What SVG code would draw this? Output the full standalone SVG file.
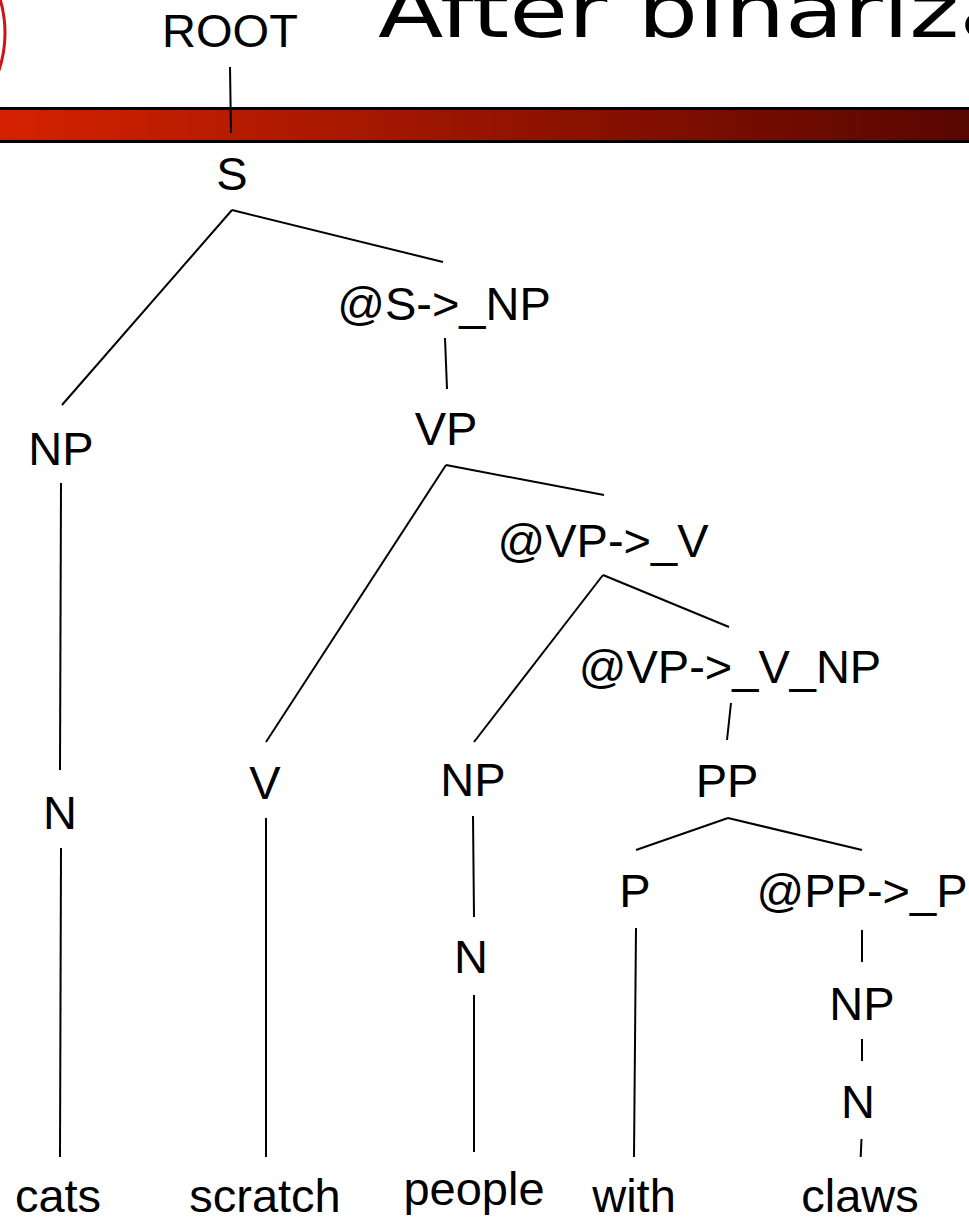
<svg xmlns="http://www.w3.org/2000/svg" width="969" height="1223" viewBox="0 0 969 1223">
<style>
.lbl{font-family:"Liberation Sans",Arial,sans-serif;font-size:47px;fill:#000;text-anchor:middle}
.edge{stroke:#000;stroke-width:2;fill:none;stroke-linecap:butt}
.title{font-family:"DejaVu Sans",Verdana,sans-serif;font-size:74px;fill:#000}
</style>
<defs>
<linearGradient id="bar" x1="0" y1="0" x2="1" y2="0">
<stop offset="0" stop-color="#d42200"/>
<stop offset="1" stop-color="#580600"/>
</linearGradient>
</defs>
<rect width="969" height="1223" fill="#fff"/>
<g id="header">
<circle cx="-113" cy="33" r="118" fill="none" stroke="#d41010" stroke-width="3"/>
<text class="title" transform="translate(378,37) scale(1.29,1)">After binariza</text>
<rect x="0" y="109" width="969" height="32" fill="url(#bar)"/>
<line x1="0" y1="108.5" x2="969" y2="108.5" stroke="#000" stroke-width="3"/>
<line x1="0" y1="141.5" x2="969" y2="141.5" stroke="#000" stroke-width="3"/>
</g>
<g id="connectors">
<line class="edge" x1="230" y1="67" x2="231" y2="133"/>
<line class="edge" x1="232" y1="210" x2="62" y2="405"/>
<line class="edge" x1="232" y1="210" x2="443" y2="262"/>
<line class="edge" x1="445" y1="338" x2="447" y2="389"/>
<line class="edge" x1="446" y1="465" x2="266" y2="742"/>
<line class="edge" x1="446" y1="465" x2="604" y2="495"/>
<line class="edge" x1="603" y1="575" x2="474" y2="742"/>
<line class="edge" x1="603" y1="575" x2="729" y2="627"/>
<line class="edge" x1="731" y1="703" x2="727" y2="740"/>
<line class="edge" x1="728" y1="818" x2="636" y2="850"/>
<line class="edge" x1="728" y1="818" x2="862" y2="850"/>
<line class="edge" x1="636" y1="928" x2="634" y2="1157"/>
<line class="edge" x1="862" y1="930" x2="862" y2="962"/>
<line class="edge" x1="862" y1="1039" x2="862" y2="1061"/>
<line class="edge" x1="861.5" y1="1139" x2="860.7" y2="1157"/>
<line class="edge" x1="61" y1="483" x2="60" y2="770"/>
<line class="edge" x1="61" y1="848" x2="60" y2="1157"/>
<line class="edge" x1="266" y1="818" x2="266" y2="1157"/>
<line class="edge" x1="473" y1="816" x2="474" y2="917"/>
<line class="edge" x1="474" y1="995" x2="474" y2="1152"/>
</g>
<g id="n-root"><text class="lbl" x="230" y="47">ROOT</text></g>
<g id="n-s"><text class="lbl" x="232" y="190">S</text></g>
<g id="n-s-np"><text class="lbl" x="444" y="320">@S-&gt;_NP</text></g>
<g id="n-np1"><text class="lbl" x="61" y="465">NP</text></g>
<g id="n-vp"><text class="lbl" x="446" y="445">VP</text></g>
<g id="n-vp-v"><text class="lbl" x="603" y="557">@VP-&gt;_V</text></g>
<g id="n-vp-v-np"><text class="lbl" x="730" y="683">@VP-&gt;_V_NP</text></g>
<g id="n-n1"><text class="lbl" x="60" y="829">N</text></g>
<g id="n-v"><text class="lbl" x="265" y="799">V</text></g>
<g id="n-np2"><text class="lbl" x="473" y="796">NP</text></g>
<g id="n-pp"><text class="lbl" x="727" y="797">PP</text></g>
<g id="n-p"><text class="lbl" x="635" y="907">P</text></g>
<g id="n-pp-p"><text class="lbl" x="862" y="907">@PP-&gt;_P</text></g>
<g id="n-n2"><text class="lbl" x="471" y="973">N</text></g>
<g id="n-np3"><text class="lbl" x="862" y="1020">NP</text></g>
<g id="n-n3"><text class="lbl" x="858" y="1118">N</text></g>
<g id="w-cats"><text class="lbl" x="58" y="1212">cats</text></g>
<g id="w-scratch"><text class="lbl" x="265" y="1212">scratch</text></g>
<g id="w-people"><text class="lbl" x="474" y="1205">people</text></g>
<g id="w-with"><text class="lbl" x="634" y="1212">with</text></g>
<g id="w-claws"><text class="lbl" x="860" y="1212">claws</text></g>
</svg>
